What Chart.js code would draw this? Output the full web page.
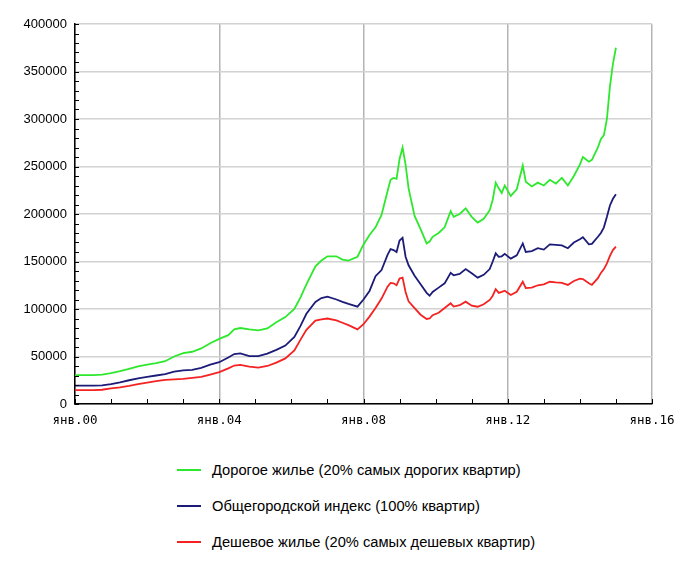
<!DOCTYPE html>
<html>
<head>
<meta charset="utf-8">
<script src="https://cdn.jsdelivr.net/npm/chart.js@4"></script>
<style>
  body { margin: 0; background: #fff; }
  #wrap { position: relative; width: 700px; height: 571px; }
  #chartBox { position: absolute; left: 0; top: 0; width: 700px; height: 440px; }
  .legend-row { position: absolute; left: 177px; height: 20px; display: flex; align-items: center;
    font: 14.7px "Liberation Sans", Arial, sans-serif; color: #000; white-space: nowrap; }
  .legend-row i { display: inline-block; width: 24px; height: 2px; margin-right: 11px; }
</style>
</head>
<body>
<div id="wrap">
  <div id="chartBox"><canvas id="chart" width="700" height="440"></canvas></div>
  <div id="legend"></div>
</div>
<script>
// months since январь 2000
const months = [
  0, 3, 6, 9, 12, 15, 18, 21, 24, 27, 30, 33, 36, 39, 42, 45, 48, 51, 53, 55,
  58, 61, 64, 67, 70, 73, 75, 77, 80, 82, 84, 87, 89, 91, 94, 96, 98, 100, 102, 104,
  105, 106, 107, 108, 109, 110, 111, 113, 115, 117, 118, 119, 121, 123, 125, 126, 128, 130, 132, 134,
  136, 138, 139, 140, 141, 142, 143, 145, 147, 149, 150, 152, 154, 156, 158, 160, 162, 164, 166, 168,
  169, 171, 172, 174, 175, 176, 177, 178, 179, 180,
];

const expensive = [
  30500, 30500, 30500, 31000, 32500, 34500, 37000, 39500, 41500, 43000, 45000, 50000, 53500, 55000, 58500, 64000, 68500, 72500, 78500, 80000,
  78500, 77500, 79500, 86000, 91500, 100000, 112000, 126000, 145000, 151000, 155500, 155500, 152000, 151000, 155000, 168000, 178000, 186000, 199000, 224000,
  236000, 238000, 237000, 258000, 270000, 252000, 227000, 198000, 184000, 169000, 171000, 176000, 180000, 186000, 203000, 197000, 200000, 206000, 197000, 191000,
  195000, 204000, 215000, 233000, 227000, 222000, 230000, 219000, 226000, 251000, 234000, 229000, 233000, 230000, 236000, 232000, 238000, 230000, 240000, 252000,
  260000, 255000, 257000, 270000, 279000, 283000, 300000, 334000, 358000, 375000,
];

const citywide = [
  19300, 19300, 19300, 19500, 21000, 22800, 25000, 27000, 28500, 30000, 31500, 34000, 35500, 36000, 38000, 41500, 44000, 49000, 52600, 53300,
  50500, 50500, 53000, 57000, 61500, 70500, 82000, 95000, 107500, 111500, 112900, 110000, 107500, 105300, 102500, 110000, 119000, 134500, 141000, 157000,
  163000, 162000, 160000, 172000, 175000, 155000, 146000, 135000, 126000, 117000, 114000, 118000, 122500, 127000, 138000, 135500, 137000, 142000, 137600, 133000,
  136000, 142000, 150000, 158600, 155000, 155500, 158000, 153000, 156500, 169000, 160000, 161000, 164000, 162500, 168000, 167500, 167000, 164000, 170000, 173500,
  175500, 168000, 168500, 176000, 180000, 186000, 197000, 209000, 216000, 220700,
];

const cheap = [
  14700, 14700, 14700, 15000, 16500, 17500, 19000, 21000, 22500, 24000, 25300, 26000, 26500, 27500, 28500, 31000, 33500, 37500, 40500, 41100,
  39300, 38200, 40000, 43500, 48000, 56500, 67500, 78000, 87700, 89100, 90000, 88000, 85500, 83000, 78600, 84000, 92000, 101000, 111000, 123500,
  127500, 127000, 125000, 132000, 133000, 118000, 108000, 101000, 94000, 89500, 90000, 93500, 96000, 101000, 106000, 102500, 104000, 107700, 103500, 102400,
  105000, 109500, 114000, 120800, 117000, 118000, 119300, 114700, 118200, 128700, 122000, 122500, 125000, 126000, 128700, 128000, 127500, 125300, 129500, 132000,
  131500, 127000, 125300, 132500, 138000, 142000, 148000, 156000, 162000, 165600,
];

const seriesLabels = [
  "Дорогое жилье (20% самых дорогих квартир)",
  "Общегородской индекс (100% квартир)",
  "Дешевое жилье (20% самых дешевых квартир)",
];
const seriesColors = ["#2ee82e", "#1c1c78", "#f52222"];
const seriesValues = [expensive, citywide, cheap];

const xMax = 192; // янв.16
const yMax = 400000;

const toPoints = (values) => values.map((v, i) => ({ x: months[i], y: v }));

// small tick marks drawn inside the plot, like the original
const innerTicks = {
  id: "innerTicks",
  afterDraw(chart) {
    const { ctx, chartArea, scales } = chart;
    ctx.save();
    ctx.strokeStyle = "#000";
    ctx.lineWidth = 1;
    ctx.beginPath();
    scales.x.ticks.forEach((t) => {
      const px = Math.round(scales.x.getPixelForValue(t.value)) + 0.5;
      ctx.moveTo(px, chartArea.bottom);
      ctx.lineTo(px, chartArea.bottom - 5);
    });
    scales.y.ticks.forEach((t) => {
      const py = Math.round(scales.y.getPixelForValue(t.value)) + 0.5;
      ctx.moveTo(chartArea.left, py);
      ctx.lineTo(chartArea.left + 4, py);
    });
    ctx.stroke();
    ctx.restore();
  },
};

new Chart(document.getElementById("chart").getContext("2d"), {
  type: "line",
  data: {
    datasets: seriesValues.map((values, i) => ({
      label: seriesLabels[i],
      data: toPoints(values),
      borderColor: seriesColors[i],
      borderWidth: 1.8,
      pointRadius: 0,
      tension: 0,
      fill: false,
    })),
  },
  options: {
    responsive: false,
    animation: false,
    layout: { padding: { top: 24, right: 48, left: 0, bottom: 0 } },
    plugins: { legend: { display: false }, tooltip: { enabled: false } },
    scales: {
      x: {
        type: "linear",
        min: 0,
        max: xMax,
        afterFit: (scale) => { scale.height = 36; },
        ticks: {
          stepSize: 12,
          autoSkip: false,
          maxRotation: 0,
          padding: 9,
          color: "#000",
          font: { family: "DejaVu Sans Mono", size: 12.5 },
          callback: (v) => (v % 48 === 0 ? "янв." + String(v / 12).padStart(2, "0") : ""),
        },
        grid: {
          drawTicks: false,
          color: (c) => (c.tick && c.tick.value % 48 === 0 ? "#b4b4b4" : "rgba(0,0,0,0)"),
          lineWidth: 1.5,
        },
        border: { color: "#000", width: 1.5 },
      },
      y: {
        min: 0,
        max: yMax,
        afterFit: (scale) => { scale.width = 75; },
        ticks: {
          stepSize: 10000,
          autoSkip: false,
          padding: 8,
          color: "#000",
          font: { family: "Liberation Sans", size: 13 },
          callback: (v) => (v % 50000 === 0 ? String(v) : ""),
        },
        grid: {
          drawTicks: false,
          color: (c) => (c.tick && c.tick.value % 50000 === 0 ? "#d2d2d2" : "rgba(0,0,0,0)"),
          lineWidth: 1.5,
        },
        border: { color: "#000", width: 1.5 },
      },
    },
  },
  plugins: [innerTicks],
});

// legend below the chart
const legendRows = [470, 506, 542];
const legend = document.getElementById("legend");
seriesLabels.forEach((label, i) => {
  const row = document.createElement("div");
  row.className = "legend-row";
  row.style.top = legendRows[i] - 10 + "px";
  const swatch = document.createElement("i");
  swatch.style.background = seriesColors[i];
  row.appendChild(swatch);
  row.appendChild(document.createTextNode(label));
  legend.appendChild(row);
});
</script>
</body>
</html>
